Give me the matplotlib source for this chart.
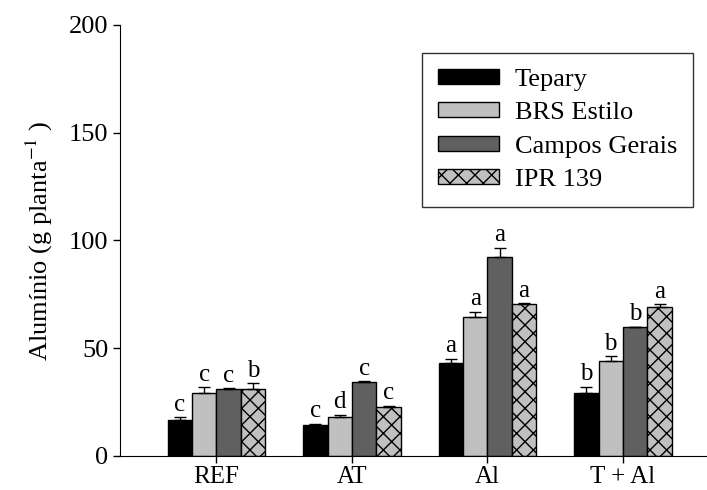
import matplotlib.pyplot as plt
import numpy as np

plt.rcParams['font.family'] = ['Liberation Serif', 'DejaVu Serif']
plt.rcParams['mathtext.fontset'] = 'stix'
plt.rcParams['hatch.linewidth'] = 1.0

groups = ['REF', 'AT', 'Al', 'T + Al']
series = ['Tepary', 'BRS Estilo', 'Campos Gerais', 'IPR 139']

tepary = [16.7, 14.4, 43.3, 29.4]
brs = [29.1, 18.0, 64.4, 44.2]
campos = [31.2, 34.5, 92.5, 59.7]
ipr = [31.2, 22.9, 70.5, 69.0]

tepary_err = [1.4, 0.6, 1.9, 2.8]
brs_err = [2.8, 1.2, 2.6, 2.2]
campos_err = [0.3, 0.2, 4.2, 0.3]
ipr_err = [2.5, 0.4, 0.3, 1.5]

tepary_let = ['c', 'c', 'a', 'b']
brs_let = ['c', 'd', 'a', 'b']
campos_let = ['c', 'c', 'a', 'b']
ipr_let = ['b', 'c', 'a', 'a']

values = [tepary, brs, campos, ipr]
errors = [tepary_err, brs_err, campos_err, ipr_err]
letters = [tepary_let, brs_let, campos_let, ipr_let]
colors = ['#000000', '#c0c0c0', '#606060', '#c0c0c0']
hatches = [None, None, None, 'xx']

fig = plt.figure(figsize=(7.07, 4.9), dpi=100)
ax = fig.add_axes([0.170, 0.0694, 0.83, 0.8796])

x = np.arange(len(groups))
w = 0.18
for i in range(4):
    pos = x + (i - 1.5) * w
    ax.bar(pos, values[i], w, color=colors[i], edgecolor='black', linewidth=1.0,
           hatch=hatches[i], label=series[i], zorder=2)
    ax.errorbar(pos, values[i], yerr=[np.zeros(4), errors[i]], fmt='none',
                ecolor='black', elinewidth=1.0, capsize=4, capthick=1.0, zorder=3)
    for p, v, e, t in zip(pos, values[i], errors[i], letters[i]):
        ax.annotate(t, (p, v + e), xytext=(0, 1), textcoords='offset points',
                    ha='center', va='bottom', fontsize=18)

ax.set_xlim(-0.71, 3.62)
ax.set_ylim(0, 200)
ax.set_yticks([0, 50, 100, 150, 200])
ax.set_xticks(x)
ax.set_xticklabels(groups)
ax.tick_params(axis='both', direction='out', length=5, width=1, labelsize=19)
ax.tick_params(axis='x', pad=2, labelsize=18)
ax.spines['top'].set_visible(False)
ax.spines['right'].set_visible(False)
ax.set_ylabel('Alumínio (g planta$^{-1}$ )', fontsize=19, labelpad=10)

leg = ax.legend(loc='upper right', bbox_to_anchor=(0.976, 0.935), fontsize=19,
                frameon=True, fancybox=False, edgecolor='black',
                handlelength=2.3, handleheight=0.5, borderpad=0.6,
                labelspacing=0.43, handletextpad=0.6, borderaxespad=0)
leg.get_frame().set_linewidth(1.0)

fig.savefig('out.png', dpi=100)
